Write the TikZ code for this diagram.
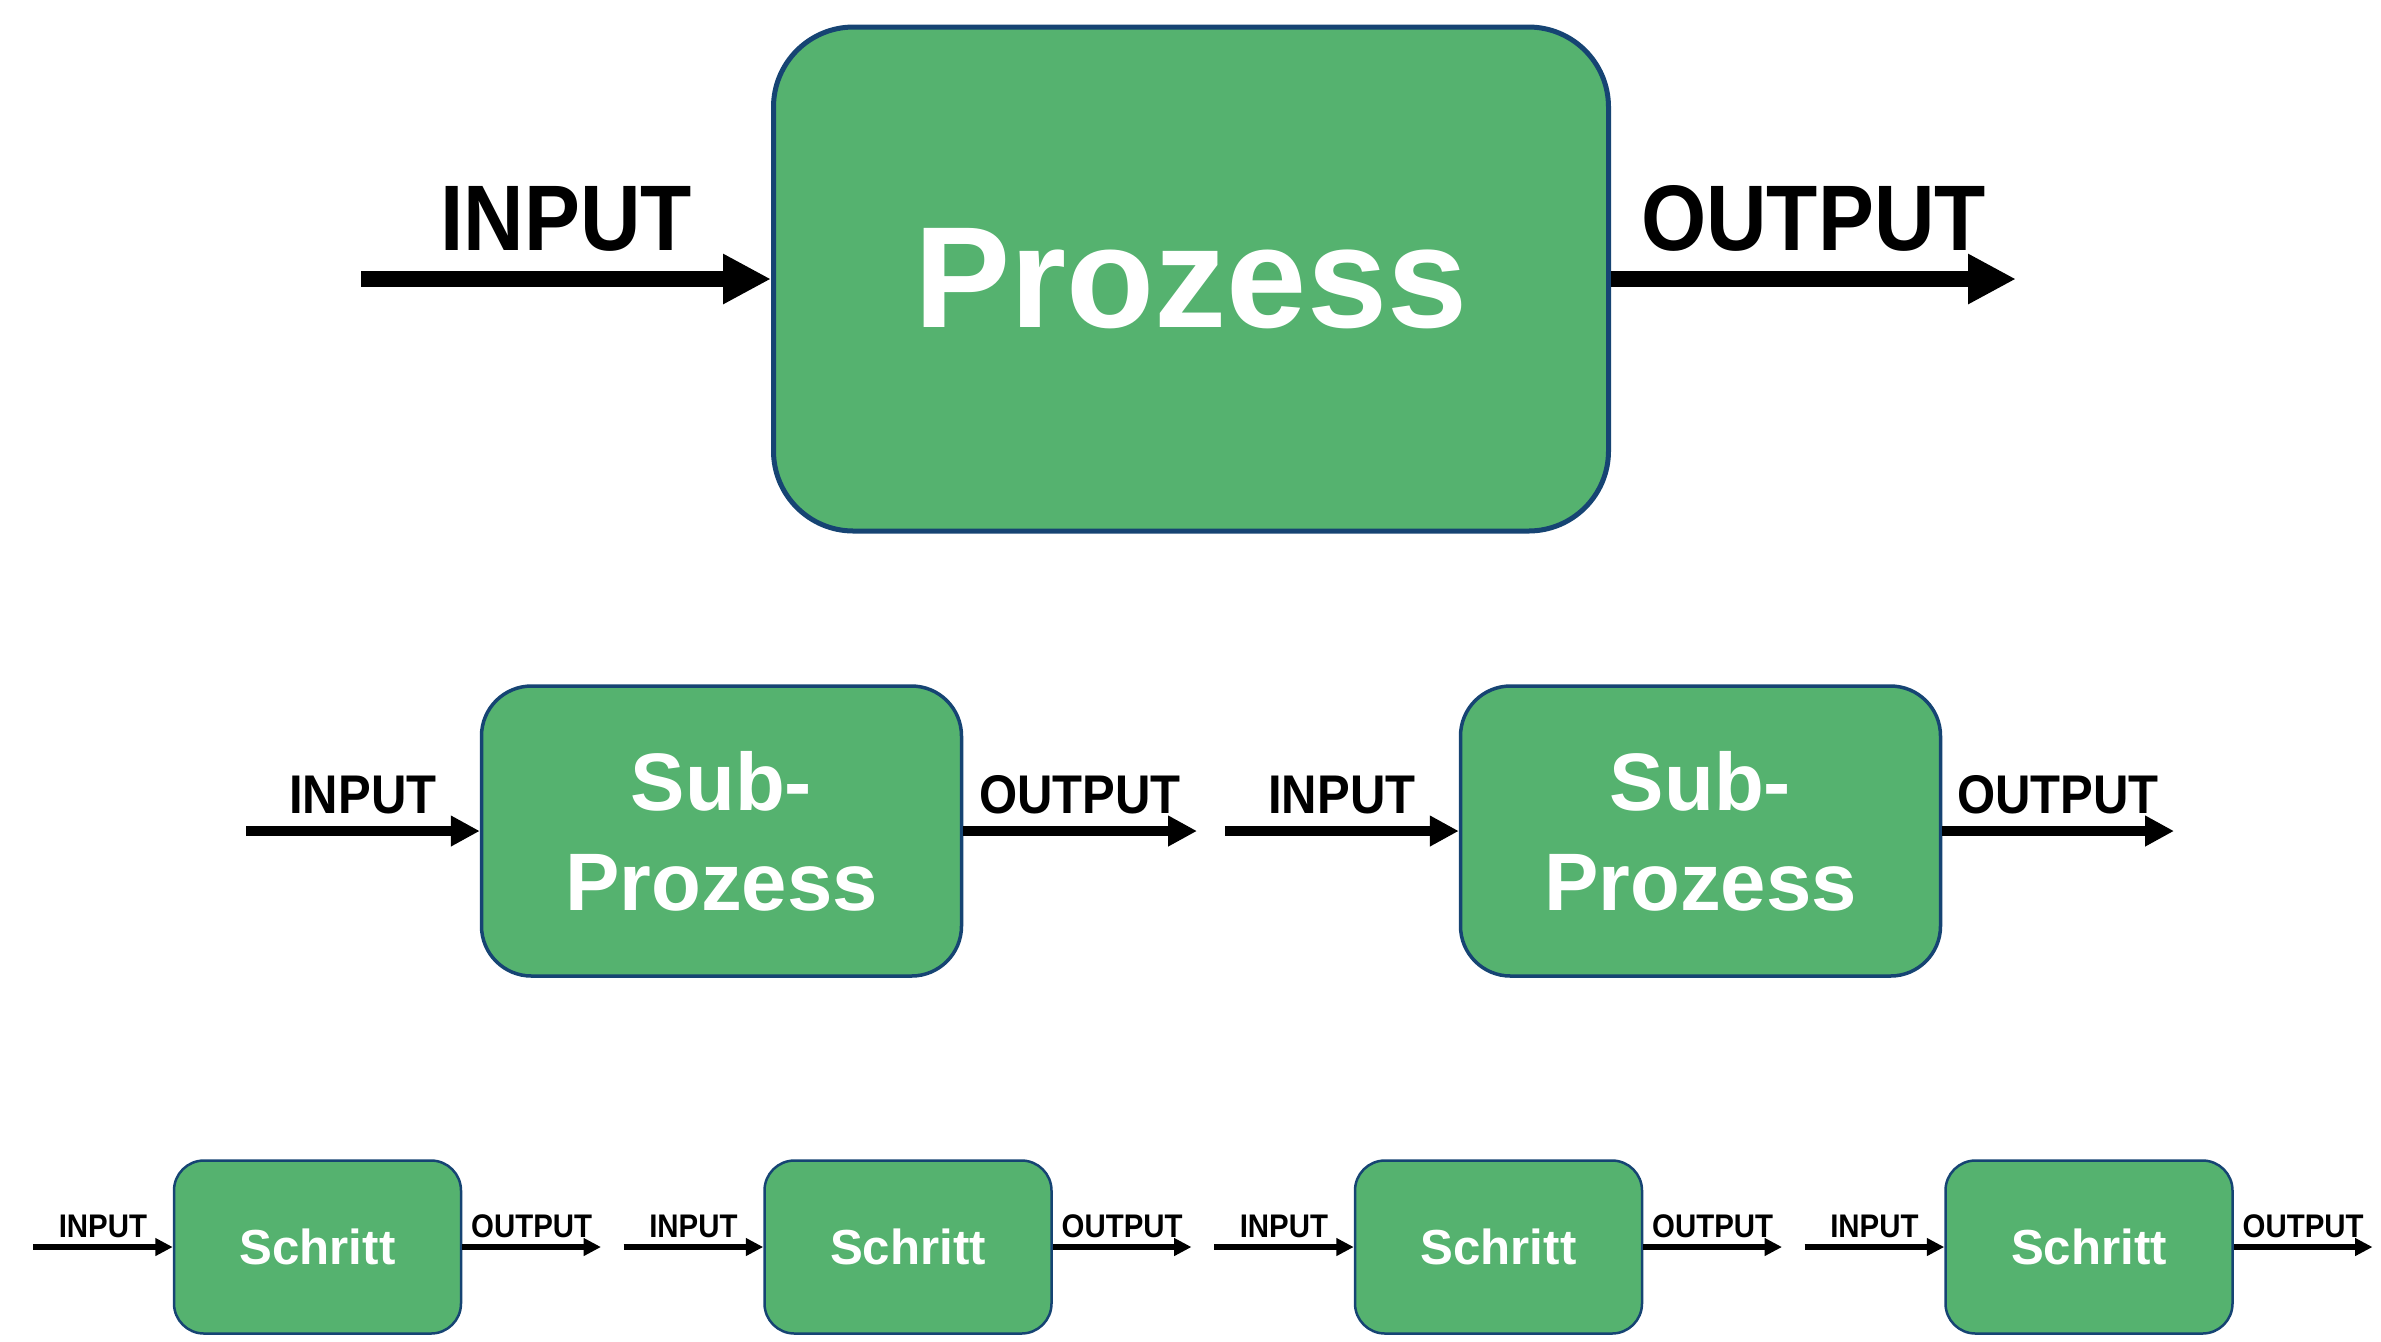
\documentclass[tikz,border=0pt]{standalone}
\usepackage{fontspec}
\setmainfont{Liberation Sans}
\newfontfamily\labelfont[FakeStretch=0.9]{Liberation Sans}
\usetikzlibrary{arrows.meta,positioning}
\definecolor{boxgreen}{RGB}{85,178,111}
\definecolor{boxborder}{RGB}{22,68,115}

\begin{document}
\begin{tikzpicture}[
    prozessbox/.style={draw=boxborder, fill=boxgreen, line width=0.05cm, rounded corners=0.8cm, minimum width=8.35cm, minimum height=5.04cm, inner sep=0pt, text=white, font=\bfseries\fontsize{41}{49}\selectfont},
    subbox/.style={draw=boxborder, fill=boxgreen, line width=0.035cm, rounded corners=0.5cm, minimum width=4.80cm, minimum height=2.90cm, inner sep=0pt, text=white, align=center, font=\bfseries\fontsize{23.2}{28.5}\selectfont},
    schrittbox/.style={draw=boxborder, fill=boxgreen, line width=0.025cm, rounded corners=0.3cm, minimum width=2.87cm, minimum height=1.73cm, inner sep=0pt, text=white, font=\bfseries\fontsize{14}{17}\selectfont},
    bigarrow/.style={line width=0.155cm, -{Triangle[length=0.48cm, width=0.47cm]}},
    subarrow/.style={line width=0.1cm, -{Triangle[length=0.29cm, width=0.29cm]}},
    smallarrow/.style={line width=0.054cm, -{Triangle[length=0.175cm, width=0.17cm]}},
    biglabel/.style={inner sep=0pt, above=0.2cm, font=\labelfont\bfseries\fontsize{26.5}{30}\selectfont},
    sublabel/.style={inner sep=0pt, above=0.12cm, font=\labelfont\bfseries\fontsize{15.5}{18}\selectfont},
    smalllabel/.style={inner sep=0pt, above=0.07cm, font=\labelfont\bfseries\fontsize{9.3}{11}\selectfont}
]
    \useasboundingbox (0,0) rectangle (23.81,-13.41);

    % Main process
    \node[prozessbox] (prozess) at (11.91, -2.79) {Prozess};
    \coordinate (prozessin) at (3.61, -2.79);
    \coordinate (prozessout) at (20.16, -2.79);
    \draw[bigarrow] (prozessin) -- node[biglabel] {INPUT} (prozess.west);
    \draw[bigarrow] (prozess.east) -- node[biglabel] {OUTPUT} (prozessout);

    % Sub-processes
    \node[subbox] (subA) at (7.215, -8.31) {Sub-\\Prozess};
    \coordinate (subAin) at (2.46, -8.31);
    \coordinate (subAout) at (11.97, -8.31);
    \draw[subarrow] (subAin) -- node[sublabel] {INPUT} (subA.west);
    \draw[subarrow] (subA.east) -- node[sublabel] {OUTPUT} (subAout);

    \node[subbox] (subB) at (17.005, -8.31) {Sub-\\Prozess};
    \coordinate (subBin) at (12.25, -8.31);
    \coordinate (subBout) at (21.74, -8.31);
    \draw[subarrow] (subBin) -- node[sublabel] {INPUT} (subB.west);
    \draw[subarrow] (subB.east) -- node[sublabel] {OUTPUT} (subBout);

    % Steps
    \node[schrittbox] (stepA) at (3.175, -12.47) {Schritt};
    \coordinate (stepAin) at (0.33, -12.47);
    \coordinate (stepAout) at (6.01, -12.47);
    \draw[smallarrow] (stepAin) -- node[smalllabel] {INPUT} (stepA.west);
    \draw[smallarrow] (stepA.east) -- node[smalllabel] {OUTPUT} (stepAout);

    \node[schrittbox] (stepB) at (9.08, -12.47) {Schritt};
    \coordinate (stepBin) at (6.235, -12.47);
    \coordinate (stepBout) at (11.915, -12.47);
    \draw[smallarrow] (stepBin) -- node[smalllabel] {INPUT} (stepB.west);
    \draw[smallarrow] (stepB.east) -- node[smalllabel] {OUTPUT} (stepBout);

    \node[schrittbox] (stepC) at (14.985, -12.47) {Schritt};
    \coordinate (stepCin) at (12.14, -12.47);
    \coordinate (stepCout) at (17.82, -12.47);
    \draw[smallarrow] (stepCin) -- node[smalllabel] {INPUT} (stepC.west);
    \draw[smallarrow] (stepC.east) -- node[smalllabel] {OUTPUT} (stepCout);

    \node[schrittbox] (stepD) at (20.89, -12.47) {Schritt};
    \coordinate (stepDin) at (18.045, -12.47);
    \coordinate (stepDout) at (23.725, -12.47);
    \draw[smallarrow] (stepDin) -- node[smalllabel] {INPUT} (stepD.west);
    \draw[smallarrow] (stepD.east) -- node[smalllabel] {OUTPUT} (stepDout);
\end{tikzpicture}
\end{document}
